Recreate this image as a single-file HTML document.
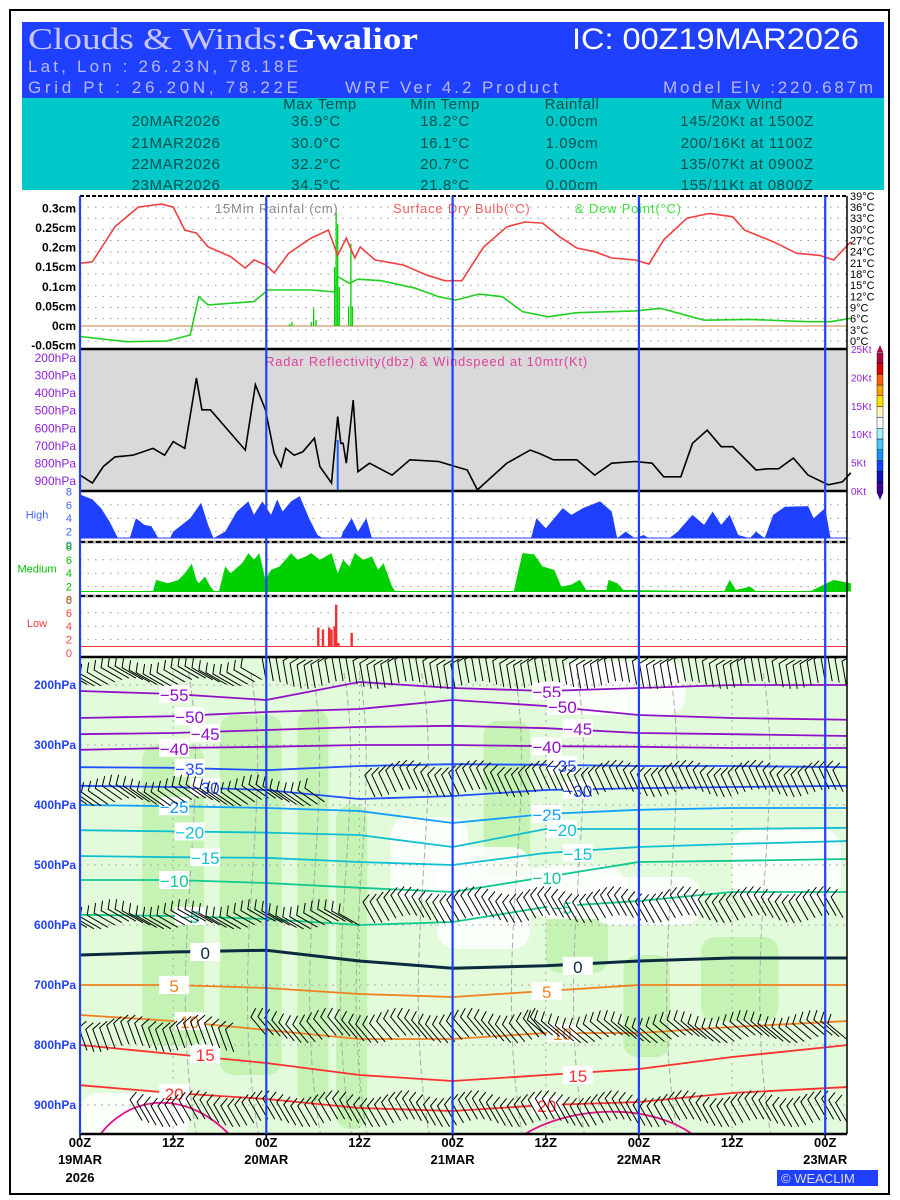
<!DOCTYPE html>
<html><head><meta charset="utf-8"><style>
html,body{margin:0;padding:0;background:#fff}
svg{display:block}
</style></head><body>
<svg id="chart" width="900" height="1200" viewBox="0 0 900 1200" xmlns="http://www.w3.org/2000/svg">
<rect x="10" y="10" width="879" height="1184" fill="#fff" stroke="#000" stroke-width="2"/>
<g>
<rect x="22" y="22" width="862" height="76" fill="#2040ff"/>
<text x="28" y="49" font-family="Liberation Serif,serif" font-size="31" fill="#c8c8ff" textLength="390" lengthAdjust="spacingAndGlyphs">Clouds &amp; Winds:<tspan fill="#fff" font-weight="bold">Gwalior</tspan></text>
<text x="572" y="49" font-family="Liberation Sans,sans-serif" font-size="30" fill="#fff" textLength="287" lengthAdjust="spacingAndGlyphs">IC: 00Z19MAR2026</text>
<text x="28" y="72" font-family="Liberation Sans,sans-serif" font-size="17" fill="#b8b8ff" textLength="270" lengthAdjust="spacing">Lat, Lon : 26.23N, 78.18E</text>
<text x="28" y="93" font-family="Liberation Sans,sans-serif" font-size="17" fill="#b8b8ff" textLength="270" lengthAdjust="spacing">Grid Pt  : 26.20N, 78.22E</text>
<text x="345" y="93" font-family="Liberation Sans,sans-serif" font-size="17" fill="#b8b8ff" textLength="213" lengthAdjust="spacing">WRF Ver 4.2 Product</text>
<text x="663" y="93" font-family="Liberation Sans,sans-serif" font-size="17" fill="#b8b8ff" textLength="210" lengthAdjust="spacing">Model Elv :220.687m</text>
<rect x="22" y="98" width="862" height="92" fill="#00c8c8"/>
<g font-family="Liberation Sans,sans-serif" font-size="15" fill="#005050" text-anchor="middle" letter-spacing="0.6">
<text x="320" y="109">Max Temp</text><text x="445" y="109">Min Temp</text><text x="572" y="109">Rainfall</text><text x="747" y="109">Max Wind</text>
<text x="176" y="126">20MAR2026</text><text x="316" y="126">36.9°C</text><text x="445" y="126">18.2°C</text><text x="572" y="126">0.00cm</text><text x="747" y="126">145/20Kt at 1500Z</text>
<text x="176" y="148">21MAR2026</text><text x="316" y="148">30.0°C</text><text x="445" y="148">16.1°C</text><text x="572" y="148">1.09cm</text><text x="747" y="148">200/16Kt at 1100Z</text>
<text x="176" y="169">22MAR2026</text><text x="316" y="169">32.2°C</text><text x="445" y="169">20.7°C</text><text x="572" y="169">0.00cm</text><text x="747" y="169">135/07Kt at 0900Z</text>
<text x="176" y="190">23MAR2026</text><text x="316" y="190">34.5°C</text><text x="445" y="190">21.8°C</text><text x="572" y="190">0.00cm</text><text x="747" y="190">155/11Kt at 0800Z</text>
</g>
</g>
<g id="layer"></g>
</svg>
<script>
// ---------- data ----------
const tempHours=[0,1.6,4.5,7.5,10.5,12,13.5,15,16.5,19.4,21.3,22.4,24,25,26.9,29.8,32,33.2,34.3,35.4,36.1,38,41.7,44.7,47,49.2,52,55,57.3,59.6,61.8,64,66.3,68.5,71.5,73.3,75.2,78.2,81.1,84.1,85.6,89.3,92.3,95.3,97.1,99.3];
const tempValues=[20.9,21.3,30.7,36,36.8,36,29.8,29,25.3,22.7,19.6,21.8,20.4,18.3,23.6,27.7,29.8,23,27.7,22.3,25.3,21.8,20.4,17.7,16.2,16.2,25.3,30.7,32,31.7,28,25,24,22.3,21.8,20.7,27.2,33,34.3,33.4,29.8,26.7,23.6,23,21.8,26.7];
const dewHours=[0,6,11.2,14.2,15.3,16.5,22.4,24.2,29.8,32.8,33.2,34.7,35.8,38.8,43.2,46.2,48.4,51.4,54.4,57,60.3,64,71.5,74.8,80.4,86.3,93.8,96.7,99.3];
const dewValues=[1.2,-0.2,0,1.6,11.9,9.7,10.6,13.7,13.7,13.2,17.3,15.5,16.6,16.2,14.2,11.9,11,12.6,11.9,7.9,6.5,7.6,8.1,8.8,5.6,5.8,5.2,5.2,6.1];
const rainHours=[27.0,27.3,29.8,30.1,30.4,32.8,33.0,33.2,33.4,34.6,34.9,35.1];
const rainValues=[0.005,0.01,0.01,0.045,0.015,0.15,0.29,0.26,0.1,0.05,0.21,0.05];
const windHours=[0,1.6,3,4.5,6.8,9.4,10.9,12,13.5,15,15.7,16.8,19.4,21.3,22.6,23.9,25,25.9,26.5,27.6,28.7,30.2,30.9,32.4,33.2,33.6,33.9,34.3,35.2,35.8,37.3,40.2,42.5,46.2,48.4,49.9,51.2,52.9,55,58,59.2,61,64,66.3,68.5,71.5,73.7,75.2,77.4,78.9,80.8,82.6,84.1,87.1,88.6,90,91.9,93.8,96.4,98.2,99.3];
const windValues=[2.8,1.4,4.3,6,6.3,7.5,6.3,8.7,7.5,19.9,14.3,14.3,10.2,7.2,18.7,14.3,6.7,4.3,7.5,6.3,6.9,9.3,4.3,1.4,13.1,8.4,8.4,4.9,16,3.4,4.9,2.8,5.5,5.2,4.3,3.7,0.2,2.3,4.9,7.2,6.6,5.5,5.5,2.8,4.9,5.2,4.9,2.5,2.5,8.4,10.7,7.8,7.8,3.7,3.9,3.9,5.8,2.8,1.1,1.6,3.2];
const highHours=[0.1,1.6,2.7,3.8,4.9,6.4,7.2,8.3,9.2,10.1,11.6,12.0,14.2,15.6,16.5,17.2,18.7,20.2,21.7,22.4,23.5,24.6,25.4,26.1,27.2,28.3,29.5,30.6,31.3,33.6,33.9,35.0,35.8,36.9,37.6,58.1,58.8,60.0,62.2,63.3,64.8,67.0,68.5,69.2,70.3,71.5,72.6,73.3,75.9,77.0,78.9,80.4,81.5,82.6,83.7,84.8,86.3,87.1,88.2,89.3,90.8,93.8,94.5,96.0,96.7,99.3];
const highValues=[7.5,6.8,5.5,3.5,1,1,4,3,2.8,1,1,2,4,6.3,3,1,2,5,6.5,4.5,6.5,4.5,6.8,5,6.5,7.3,4,1.5,1,1,2,4,2,4,1,1,4,2.5,5.5,4.5,5.5,6.5,5,1,2,1,1.5,1,1,2,4.5,3,5,3,4.5,1.5,1,2,1,4.5,5.7,5.8,4,5.5,1,1];
const medHours=[0.1,9.4,9.8,11.3,12.7,13.5,14.4,15.0,15.3,16.1,16.8,17.3,17.9,18.7,19.4,20.9,21.7,22.4,23.1,23.9,24.6,25.7,27.2,28.0,29.1,29.8,30.9,32.4,33.2,33.9,34.7,35.4,36.5,37.6,38.4,39.1,40.2,40.6,55.9,56.2,57.0,58.5,59.6,61.1,62.0,63.3,64.4,65.2,67.8,68.1,69.2,70.0,83.0,83.7,84.5,86.3,87.1,94.1,95.3,97.1,99.3];
const medValues=[1.3,1.3,3,2.5,3,4,5.4,3,2.5,3.5,2,1.3,1.3,5,4,5.5,7,6,7,3,4.5,5,7,6,6.5,7,6,7,4,6,5,7,6,6.5,4.5,5.5,2,1.3,1.3,3,7,6.8,5,4.5,2,2.3,3,1.5,1.5,3,2.5,1.5,1.3,3,1.5,2,1.3,1.3,2,3,2.5];
const lowHours=[30.7,31.3,32.1,32.4,32.8,33.0,33.3,35.0];
const lowValues=[3.8,3.5,3.8,3.5,4,7.2,1.5,3];
const isoHours=[0,12,24,36,48,60,72,84,99];
const isoLevels=[-55,-50,-45,-40,-35,-30,-25,-20,-15,-10,-5,0,5,10,15,20];
const isoPressures=[
[210,215,225,195,205,210,205,200,200],
[255,252,245,240,225,235,250,255,258],
[282,280,275,270,268,272,280,282,285],
[308,305,303,300,300,302,303,305,305],
[337,338,342,335,332,333,335,335,337],
[368,370,375,390,385,375,372,370,368],
[400,402,405,410,430,415,408,405,405],
[442,444,446,450,470,440,440,440,438],
[485,487,488,495,500,480,470,465,460],
[525,525,530,538,545,520,495,493,490],
[583,585,590,600,595,570,560,545,545],
[650,645,642,660,672,668,660,655,655],
[700,700,705,715,720,710,700,700,700],
[750,760,775,790,790,780,780,770,760],
[800,815,830,850,860,850,840,820,800],
[867,880,890,905,910,900,895,880,870]];
const timeTickHours=[0,12,24,36,48,60,72,84,96];
const timeTickLabels=["00Z","12Z","00Z","12Z","00Z","12Z","00Z","12Z","00Z"];
const dateLabels=["19MAR","","20MAR","","21MAR","","22MAR","","23MAR"];
const rainTicks=[0.3,0.25,0.2,0.15,0.1,0.05,0,-0.05];
const tempTicks=[39,36,33,30,27,24,21,18,15,12,9,6,3,0];
const presTicks=[200,300,400,500,600,700,800,900];
const radarPresTicks=[200,300,400,500,600,700,800,900];
const ktTicks=[0,5,10,15,20,25];

// ---------- axes ----------
const L=80,R=847;
const X=h=>L+h*7.7625;
const Yrain=v=>326-v*392;
const Ytemp=t=>341-t*3.72;
const Ykt=k=>491-k*5.68;
const Yhigh=v=>545-v*6.7;
const Ymed=v=>600-v*6.7;
const Ylow=v=>653-v*6.7;
const Yp=p=>685+(p-200)*0.6;
const YradP=p=>358+(p-200)*(123/700);

const NS="http://www.w3.org/2000/svg";
const layer=document.getElementById('layer');
function mk(tag,attrs,parent){const e=document.createElementNS(NS,tag);for(const k in attrs)e.setAttribute(k,attrs[k]);(parent||layer).appendChild(e);return e;}
function txt(x,y,s,attrs,parent){const e=mk('text',Object.assign({x:x,y:y},attrs),parent);e.textContent=s;return e;}
function poly(hs,vs,yf){return hs.map((h,i)=>(i?'L':'M')+X(h).toFixed(1)+','+yf(vs[i]).toFixed(1)).join('');}
const F='font-family';const SANS='"Liberation Sans Narrow","Liberation Sans",sans-serif';

// ---------- top panel ----------
const gTop=mk('g',{});


tempTicks.forEach(t=>{const l=mk('line',{x1:L,x2:R,y1:Ytemp(t),y2:Ytemp(t),stroke:'#999','stroke-dasharray':'1.5,6'},gTop);
 
 const tt=txt(850,Ytemp(t)+4,t+'°C',{[F]:SANS,'font-size':11,fill:'#000'},gTop);
 });
rainTicks.forEach(v=>{const tt=txt(76,Yrain(v)+4,v+'cm',{[F]:SANS,'font-size':12,'font-weight':'bold',fill:'#000','text-anchor':'end'},gTop);
 });
const zl=mk('line',{x1:L,x2:R,y1:Yrain(0),y2:Yrain(0),stroke:'#c08040','stroke-width':1},gTop);

rainHours.forEach((h,i)=>{const b=mk('line',{x1:X(h),x2:X(h),y1:Yrain(0),y2:Yrain(rainValues[i]),stroke:'#00d000','stroke-width':1.3},gTop);
 });
const tl=mk('path',{d:poly(tempHours,tempValues,Ytemp),fill:'none',stroke:'#f04040','stroke-width':1.6},gTop);

const dl=mk('path',{d:poly(dewHours,dewValues,Ytemp),fill:'none',stroke:'#20d020','stroke-width':1.6},gTop);

const t1=txt(215,213,'15Min Rainfal (cm)',{[F]:'Liberation Sans,sans-serif','font-size':13,fill:'#888','letter-spacing':0.8},gTop);

const t2=txt(393,213,'Surface Dry Bulb(°C)',{[F]:'Liberation Sans,sans-serif','font-size':13,fill:'#f06060','letter-spacing':0.8},gTop);

const t3=txt(575,213,'& Dew Point(°C)',{[F]:'Liberation Sans,sans-serif','font-size':13,fill:'#40e040','letter-spacing':0.8},gTop);


// ---------- radar panel ----------
const gRad=mk('g',{});


const rb=mk('rect',{x:L,y:349,width:R-L,height:142,fill:'#d9d9d9'},gRad);

radarPresTicks.forEach(p=>{const tt=txt(76,YradP(p)+4,p+'hPa',{[F]:SANS,'font-size':12,fill:'#9020e0','text-anchor':'end'},gRad);
 });
ktTicks.forEach(k=>{const tt=txt(851,Ykt(k)+4,k+'Kt',{[F]:SANS,'font-size':10,fill:'#9020e0'},gRad);
 });
const wl=mk('path',{d:poly(windHours,windValues,Ykt),fill:'none',stroke:'#000','stroke-width':1.6},gRad);

const rr=mk('line',{x1:X(33.2),x2:X(33.2),y1:440,y2:491,stroke:'#2060ff','stroke-width':2},gRad);

const t4=txt(265,366,'Radar Reflectivity(dbz) & Windspeed at 10mtr(Kt)',{[F]:'Liberation Sans,sans-serif','font-size':13,fill:'#e040a0','letter-spacing':0.8},gRad);

const cbCols=['#3a0090','#1010c0','#1040ff','#1890ff','#40c8ff','#a0f0ff','#ffffff','#fff4c0','#ffe000','#ffa000','#ff6000','#e00000','#b00040'];
const gCb=mk('g',{});

cbCols.forEach((c,i)=>{mk('rect',{x:877,y:493-(i+1)*10.8,width:6,height:10.8,fill:c,stroke:'#000','stroke-width':0.4},gCb);});
mk('path',{d:'M877,352 L880,345 L883,352Z',fill:'#b00040'},gCb);
mk('path',{d:'M877,493 L880,500 L883,493Z',fill:'#3a0090'},gCb);

// ---------- cloud panels ----------
function area(hs,vs,yf,base){return poly(hs,vs,yf)+'L'+X(hs[hs.length-1])+','+base+'L'+X(hs[0])+','+base+'Z';}
function cloudPanel(name,hs,vs,yf,base,col,top,label,labCol,isBars){
 const g=mk('g',{});
 
 [2,4,6].forEach(v=>{mk('line',{x1:L,x2:R,y1:yf(v),y2:yf(v),stroke:'#999','stroke-dasharray':'1.5,6'},g);});
 [0,2,4,6,8].forEach(v=>{const tt=txt(72,yf(v)+4,String(v),{[F]:SANS,'font-size':11,fill:labCol,'text-anchor':'end'},g);
  });
 const lt=txt(37,(top+base)/2+4,label,{[F]:'Liberation Sans,sans-serif','font-size':11,fill:labCol,'text-anchor':'middle'},g);
 
 mk('line',{x1:L,x2:R,y1:base,y2:base,stroke:col,'stroke-width':1},g);
 if(isBars){hs.forEach((h,i)=>{const b=mk('rect',{x:X(h)-1.2,y:yf(vs[i]),width:2.4,height:base-yf(vs[i]),fill:col},g);
  });}
 else{const a=mk('path',{d:area(hs,vs,yf,base),fill:col},g);}
}
cloudPanel('high-cloud-panel',highHours,highValues,Yhigh,538,'#2040ff',491,'High','#4060ff',false);
cloudPanel('medium-cloud-panel',medHours,medValues,Ymed,591.5,'#00d000',545,'Medium','#00c000',false);
cloudPanel('low-cloud-panel',lowHours,lowValues,Ylow,646.5,'#f03030',599,'Low','#f04040',true);

// ---------- bottom panel ----------
const gB=mk('g',{});

const clip=mk('clipPath',{id:'cp'},gB);mk('rect',{x:L,y:657,width:R-L,height:477},clip);
const gBc=mk('g',{'clip-path':'url(#cp)'},gB);
mk('rect',{x:L,y:657,width:R-L,height:477,fill:'#e2fbda'},gBc);
const shadeH0=[8,18,28,33,52,60,70,80];
const shadeH1=[16,26,32,37,58,68,76,90];
const shadeP0=[300,250,240,400,260,560,650,620];
const shadeP1=[800,850,900,940,520,680,820,760];
shadeH0.forEach((h,i)=>{const r=mk('rect',{x:X(h),y:Yp(shadeP0[i]),width:X(shadeH1[i])-X(h),height:Yp(shadeP1[i])-Yp(shadeP0[i]),rx:14,fill:'#c4f3b4'},gBc);
 });
const whiteH0=[40,46,58,66,0,84,62];
const whiteH1=[50,58,70,80,14,98,78];
const whiteP0=[420,470,500,520,880,440,160];
const whiteP1=[560,640,590,600,960,560,250];
whiteH0.forEach((h,i)=>{const r=mk('rect',{x:X(h),y:Yp(whiteP0[i]),width:X(whiteH1[i])-X(h),height:Yp(whiteP1[i])-Yp(whiteP0[i]),rx:18,fill:'#ffffff',opacity:0.85},gBc);
 });
[14,22,30,34,36,44,56,64,76,88].forEach((h,i)=>{const d=mk('path',{d:`M${X(h)},${Yp(180)} C${X(h+3)},${Yp(400)} ${X(h-3)},${Yp(650)} ${X(h+1)},${Yp(950)}`,fill:'none',stroke:'#aaa','stroke-dasharray':'6,3','stroke-width':1},gBc);
 });
presTicks.forEach(p=>{mk('line',{x1:L,x2:R,y1:Yp(p),y2:Yp(p),stroke:'#aaa','stroke-dasharray':'2,5'},gBc);});
timeTickHours.forEach(h=>{mk('line',{x1:X(h),x2:X(h),y1:657,y2:1134,stroke:'#aaa','stroke-dasharray':'2,5'},gBc);});
const isoCols=['#9010c8','#9010c8','#9010c8','#9010c8','#2050ff','#2050ff','#10a0ff','#10c0d0','#10c0d0','#10c890','#10c890','#0a2a40','#f08020','#f08020','#ff3030','#ff3030'];
isoLevels.forEach((lv,i)=>{
 const p=mk('path',{d:poly(isoHours,isoPressures[i],Yp),fill:'none',stroke:isoCols[i],'stroke-width':lv===0?3:1.8},gBc);
 
 [1,5].forEach(k=>{const hh=isoHours[k]+ (i%3)*2,yy=Yp(isoPressures[i][k]);
  mk('rect',{x:X(hh)-14,y:yy-9,width:30,height:18,fill:'#fff'},gBc);
  const t=txt(X(hh)+1,yy+7,lv<0?'−'+(-lv):String(lv),{[F]:'Liberation Sans,sans-serif','font-size':17,fill:isoCols[i],'text-anchor':'middle'},gBc);
  });
});
const p25=mk('path',{d:`M${X(2)},${Yp(960)} C${X(6)},${Yp(880)} ${X(14)},${Yp(870)} ${X(20)},${Yp(960)} M${X(56)},${Yp(960)} C${X(62)},${Yp(900)} ${X(74)},${Yp(890)} ${X(80)},${Yp(960)}`,fill:'none',stroke:'#e0108a','stroke-width':1.8},gBc);

const barbRowP=[195,200,395,380,600,590,805,790,790,930];
const barbRowH0=[0,24,0,38,0,38,0,24,60,8];
const barbRowH1=[24,99,32,99,36,99,20,60,99,99];
const barbRowAng=[150,100,145,115,150,120,110,130,140,120];
barbRowP.forEach((p,r)=>{
 for(let h=barbRowH0[r];h<=barbRowH1[r];h+=0.9){
  const x=X(h),y=Yp(p)+Math.sin(h*0.7)*4,a=barbRowAng[r]*Math.PI/180,len=24;
  const ex=x+Math.cos(a)*len,ey=y-Math.sin(a)*len;
  const b=mk('path',{d:`M${x.toFixed(1)},${y.toFixed(1)}L${ex.toFixed(1)},${ey.toFixed(1)}l${(Math.cos(a-1.2)*10).toFixed(1)},${(-Math.sin(a-1.2)*10).toFixed(1)}`,fill:'none',stroke:'#000','stroke-width':1},gBc);
  
 }
});
presTicks.forEach(p=>{const t=txt(76,Yp(p)+4,p+'hPa',{[F]:SANS,'font-size':12,'font-weight':'bold',fill:'#2040ff','text-anchor':'end'},gB);
 });

// ---------- frame lines ----------
const gF=mk('g',{});

mk('line',{x1:L,x2:R,y1:196,y2:196,stroke:'#000','stroke-width':2,'stroke-dasharray':'4,2'},gF);
[349,491,657,1134].forEach(y=>mk('line',{x1:L,x2:R,y1:y,y2:y,stroke:'#000','stroke-width':2.5},gF));
[542,596].forEach(y=>{mk('rect',{x:L,y:y-1.5,width:R-L,height:3,fill:'#aaa'},gF);mk('line',{x1:L,x2:R,y1:y,y2:y,stroke:'#000','stroke-width':2,'stroke-dasharray':'5,3'},gF);});
mk('line',{x1:R,x2:R,y1:196,y2:1134,stroke:'#000','stroke-width':1.5},gF);
[0,24,48,72,96].forEach(h=>{const l=mk('line',{x1:X(h),x2:X(h),y1:196,y2:1134,stroke:'#2040ff','stroke-width':2.2},gF);
 });

// ---------- x axis ----------
const gX=mk('g',{});

timeTickHours.forEach((h,i)=>{
 mk('line',{x1:X(h),x2:X(h),y1:1134,y2:1140,stroke:'#000','stroke-width':1.5},gX);
 const t=txt(X(h),1147,timeTickLabels[i],{[F]:SANS,'font-size':13,'font-weight':'bold','text-anchor':'middle'},gX);
 
 if(dateLabels[i]){const d=txt(X(h),1164,dateLabels[i],{[F]:SANS,'font-size':13,'font-weight':'bold','text-anchor':'middle'},gX);
  }
});
const yr=txt(X(0),1182,'2026',{[F]:SANS,'font-size':13,'font-weight':'bold','text-anchor':'middle'},gX);

const wb=mk('g',{});

mk('rect',{x:777,y:1170,width:101,height:16,fill:'#2040ff'},wb);
txt(781,1183,'© WEACLIM',{[F]:'Liberation Sans,sans-serif','font-size':13,fill:'#dde'},wb);
</script>
</body></html>
